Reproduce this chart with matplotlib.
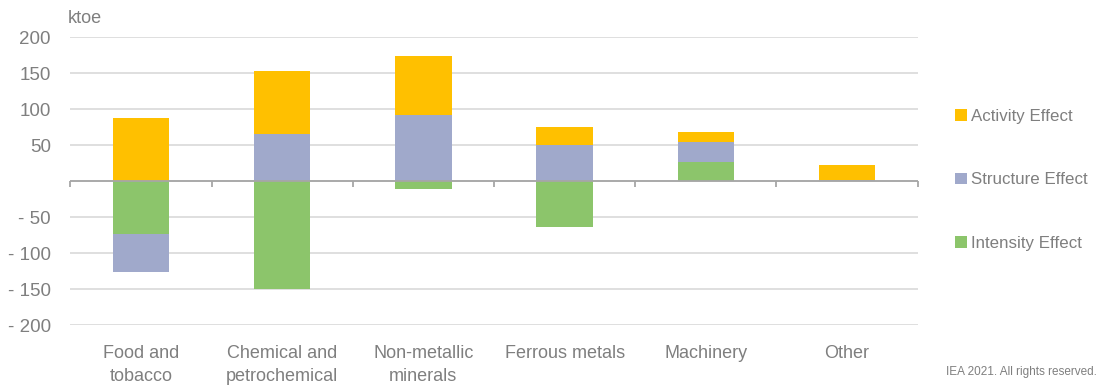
import numpy as np
import matplotlib.pyplot as plt

plt.rcParams['font.family'] = ['Liberation Sans', 'DejaVu Sans']

categories = ['Food and\ntobacco', 'Chemical and\npetrochemical', 'Non-metallic\nminerals',
              'Ferrous metals', 'Machinery', 'Other']
intensity = [-73, -150, -11, -64, 27, 0]
structure = [-53, 66, 92, 50, 27, 2]
activity = [87, 87, 82, 25, 14, 21]

series = [('Activity Effect', activity, '#FFC000'),
          ('Structure Effect', structure, '#A0A9CB'),
          ('Intensity Effect', intensity, '#8CC56B')]

grey = '#7F7F7F'

fig = plt.figure(figsize=(10.99, 3.87), dpi=100)
ax = fig.add_axes([0.064, 0.160, 0.771, 0.744])

x = np.arange(len(categories))
pos_base = np.zeros(len(categories))
neg_base = np.zeros(len(categories))
handles = {}
# stack order from the zero line: intensity, structure, activity
for name, vals, col in series[::-1]:
    vals = np.array(vals, dtype=float)
    bottom = np.where(vals >= 0, pos_base, neg_base)
    b = ax.bar(x, vals, 0.4, bottom=bottom, color=col, zorder=3, label=name)
    handles[name] = b
    pos_base = pos_base + np.where(vals > 0, vals, 0)
    neg_base = neg_base + np.where(vals < 0, vals, 0)

ax.set_xlim(-0.5, len(categories) - 0.5)
ax.set_ylim(-200, 200)
yt = np.arange(-200, 201, 50)
ax.set_yticks(yt)
ax.set_yticklabels([('- %d' % -v) if v < 0 else ('' if v == 0 else str(v)) for v in yt])
ax.yaxis.grid(True, color='#D9D9D9', linewidth=1.2, zorder=0)
ax.set_xticks(x)
ax.set_xticklabels(categories, linespacing=1.5)
ax.tick_params(axis='x', length=0, pad=14, labelsize=13, colors=grey)
ax.tick_params(axis='y', length=0, pad=14, labelsize=13.5, colors=grey)
for s in ax.spines.values():
    s.set_visible(False)

# zero line with category separator ticks
ax.axhline(0, color='#A6A6A6', linewidth=1.3, zorder=4)
ax.vlines(np.arange(len(categories) + 1) - 0.5, -8, 0, color='#A6A6A6', linewidth=1.3,
          zorder=4, clip_on=False)

ax.text(-0.003, 1.065, 'ktoe', transform=ax.transAxes, fontsize=13, color=grey,
        ha='left', va='center')

names = [s[0] for s in series]
fig.legend([handles[n] for n in names], names, loc='center left',
           bbox_to_anchor=(0.855, 0.535), frameon=False, fontsize=12.2,
           labelcolor=grey, handlelength=0.7, handleheight=0.7,
           handletextpad=0.25, labelspacing=2.85)

fig.text(0.998, 0.038, 'IEA 2021. All rights reserved.', fontsize=8.5, color=grey,
         ha='right', va='center')

fig.savefig('out.png', dpi=100)
